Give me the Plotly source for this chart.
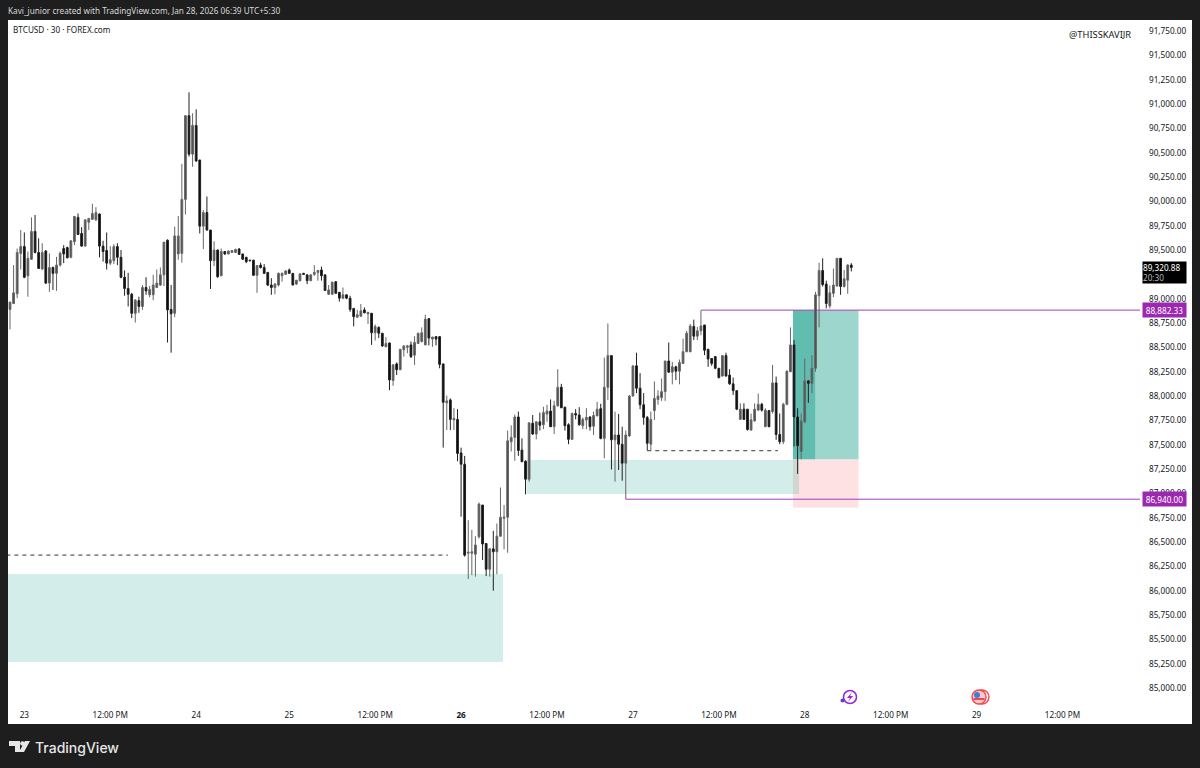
import plotly.graph_objects as go

##### BTCUSD 30m candles #####
opens = [88890,88950,89050,89465,89535,89235,89405,89690,89475,89305,
    89490,89160,89320,89260,89345,89515,89525,89425,89585,89835,
    89670,89540,89785,89815,89810,89870,89540,89495,89365,89390,
    89535,89425,89220,89105,89045,88850,88980,88920,89115,89040,
    89040,89115,89140,89245,89600,88890,88850,89460,89465,90020,
    90880,90485,90780,90425,89745,89885,89705,89390,89500,89235,
    89485,89460,89475,89475,89510,89460,89425,89395,89395,89240,
    89345,89320,89270,89140,89115,89140,89235,89250,89295,89260,
    89150,89185,89260,89245,89185,89250,89270,89295,89245,89045,
    89045,89175,89065,89005,89040,89005,88900,88810,88820,88885,
    88845,88850,88650,88705,88645,88505,88545,88160,88330,88270,
    88475,88500,88525,88420,88540,88560,88525,88795,88585,88610,
    88610,88330,87930,87960,87755,87760,87415,87300,86385,86385,
    86375,86555,86880,86485,86220,86430,86400,86560,86745,86755,
    87530,87575,87785,87445,87330,87145,87720,87610,87735,87705,
    87815,87845,87685,87900,88090,87885,87705,87555,87820,87805,
    87695,87755,87785,87690,87795,87870,87565,88090,88415,87550,
    87600,87505,87310,87590,88000,88310,88080,87910,87780,87505,
    87850,87965,87985,88045,88360,88245,88300,88255,88335,88455,
    88455,88715,88615,88670,88730,88480,88385,88405,88285,88205,
    88415,88215,88125,88055,87760,87865,87865,87650,87745,87855,
    87915,87685,87850,87840,88135,87605,87530,87915,88250,88525,
    87785,87430,87735,88155,88130,88285,89030,89290,89150,88925,
    89055,89130,89415,89125,89190,89345]
highs = [88965,89345,89515,89705,89680,89485,89835,89860,89620,89570,
    89500,89465,89330,89430,89485,89550,89535,89595,89845,89875,
    89735,89815,89825,89975,89940,89875,89595,89680,89540,89560,
    89570,89500,89290,89265,89060,88995,89020,89140,89220,89130,
    89245,89300,89320,89585,89610,89140,89740,89850,90385,90885,
    91120,90905,90945,90425,89910,90050,89705,89590,89505,89515,
    89490,89495,89500,89515,89520,89460,89430,89400,89400,89345,
    89370,89355,89270,89210,89160,89270,89270,89295,89310,89260,
    89190,89260,89265,89245,89245,89345,89295,89330,89245,89140,
    89175,89175,89065,89115,89040,89030,88900,88885,88945,88910,
    88860,88850,88735,88715,88645,88605,88550,88325,88345,88480,
    88520,88525,88560,88615,88650,88705,88835,88800,88610,88615,
    88615,88330,88005,87975,87875,87865,87470,87385,86725,86625,
    86560,86905,86880,86485,86435,86615,86690,87060,86880,87645,
    87700,87810,87840,87565,87340,87725,87805,87735,87830,87890,
    87910,87965,87950,88275,88125,87890,87720,87830,87865,87885,
    87780,87875,87790,87840,87940,87920,88395,88745,88415,87840,
    87815,87685,87645,88010,88310,88445,88235,88030,87795,87840,
    88150,88060,88180,88360,88550,88350,88310,88375,88590,88670,
    88740,88785,88710,88880,88730,88485,88385,88410,88285,88420,
    88445,88275,88190,88055,87925,87925,87865,87820,87925,88025,
    87930,87875,87855,88320,88200,87820,87930,88265,88705,88575,
    87875,87820,88385,88165,88420,89070,89370,89415,89185,89135,
    89310,89415,89415,89295,89355,89365]
lows = [88685,88945,89005,89300,89210,89020,89400,89465,89305,89295,
    89150,89070,89090,89080,89330,89365,89415,89415,89550,89655,
    89535,89535,89705,89810,89800,89425,89380,89300,89345,89355,
    89345,89210,89030,88920,88800,88755,88855,88885,89040,89015,
    88985,89115,89130,89130,88550,88445,88810,89400,89370,89865,
    90460,90355,90405,89670,89510,89700,89100,89335,89215,89235,
    89450,89455,89470,89470,89455,89400,89365,89385,89235,89060,
    89310,89255,89130,89040,89045,89125,89175,89245,89255,89140,
    89140,89175,89245,89150,89180,89235,89185,89185,89080,89040,
    89040,89055,88970,88995,88995,88865,88715,88810,88815,88850,
    88740,88525,88570,88595,88505,88505,88060,88105,88215,88265,
    88405,88440,88390,88320,88535,88550,88525,88520,88505,88520,
    88285,87470,87650,87650,87650,87330,86760,86350,86120,86160,
    86145,86535,86315,86150,86145,86000,86170,86555,86425,86390,
    87430,87335,87385,87325,86990,87120,87600,87555,87645,87660,
    87735,87680,87610,87890,87875,87645,87505,87550,87760,87695,
    87660,87660,87645,87600,87795,87555,87360,87960,87245,87120,
    87240,87130,86940,87580,87995,88030,87865,87705,87440,87440,
    87755,87910,87950,87950,88240,88120,88165,88120,88330,88450,
    88450,88575,88575,88625,88420,88300,88310,88275,88180,88200,
    88200,88115,88010,87855,87755,87755,87645,87645,87735,87850,
    87840,87680,87680,87820,87550,87505,87505,87905,88245,87480,
    87200,87350,87720,87930,88030,88250,88705,89125,88900,88900,
    89015,89125,89040,89115,89050,89280]
closes = [88965,89060,89475,89535,89220,89415,89690,89475,89310,89475,
    89160,89320,89260,89345,89465,89460,89420,89595,89845,89660,
    89540,89810,89825,89875,89885,89540,89485,89365,89400,89535,
    89425,89220,89105,89045,88850,88985,88920,89115,89080,89095,
    89140,89160,89245,89580,88885,88845,89645,89645,90020,90880,
    90485,90780,90415,89745,89885,89705,89390,89500,89225,89485,
    89460,89490,89495,89505,89455,89405,89380,89390,89240,89340,
    89320,89260,89140,89115,89150,89260,89260,89285,89260,89140,
    89190,89255,89250,89185,89245,89270,89290,89235,89085,89090,
    89170,89055,89005,89040,89005,88890,88815,88835,88875,88855,
    88860,88650,88715,88645,88515,88540,88165,88320,88270,88480,
    88515,88515,88405,88550,88645,88650,88790,88595,88605,88585,
    88325,87935,87950,87760,87770,87410,87300,86365,86395,86400,
    86470,86890,86480,86220,86430,86400,86560,86755,86755,87540,
    87575,87785,87440,87325,87145,87725,87610,87735,87700,87830,
    87845,87685,87900,88090,87880,87695,87555,87820,87805,87705,
    87760,87780,87685,87800,87865,87565,88090,88415,87550,87600,
    87505,87310,87600,88000,88310,88080,87910,87780,87515,87760,
    87975,88000,88045,88360,88245,88300,88255,88345,88455,88645,
    88720,88615,88670,88720,88470,88380,88335,88285,88190,88415,
    88205,88125,88055,87865,87865,87760,87655,87755,87865,87915,
    87855,87855,87685,88135,87605,87530,87915,88255,88525,87785,
    87490,87745,88155,88130,88285,89040,89290,89145,88950,89060,
    89140,89415,89125,89205,89345,89320.88]
candle_index = list(range(len(closes)))

# time axis labels sit on bar numbers because the axis is ordinal like TradingView
tick_bars = [4, 28, 52, 78, 102, 126, 150, 174, 198, 222, 246, 270, 294]
tick_labels = ["23", "12:00 PM", "24", "25", "12:00 PM", "<b>26</b>", "12:00 PM", "27",
               "12:00 PM", "28", "12:00 PM", "29", "12:00 PM"]

# price scale, 89,250 is hidden behind the last price box
price_ticks = [p for p in range(85000, 91751, 250) if p != 89250]

# drawings on the chart (bar numbers and prices)
demand_zones = [(-1, 137.7, 85267, 86171), (144.3, 220.4, 86993, 87342)]
dashed_levels = [(-1, 122.3, 86366), (178, 214.5, 87438)]
upper_level = 88882.33
lower_level = 86940.00
upper_start_bar = 193
lower_start_bar = 172
position_bars = (218.7, 237, 224.9)
position_entry = 87350
position_stop = 86852
last_price = 89320.88

W, H = 1200, 768
L, R, T, B = 8, 60, 20, 64  # plot margins
DARK = "#1e1e1e"
TEXT = "#131722"
PURPLE = "#9c27b0"
FONT = "Noto Sans"

def px(x):
    return (x - L) / (W - L - R)

def py(y):
    return 1 - (y - T) / (H - T - B)

def paper_rect(x0, x1, y0, y1, fill, line=None, layer="below"):
    return dict(type="rect", xref="paper", yref="paper", x0=px(x0), x1=px(x1), y0=py(y0), y1=py(y1),
                fillcolor=fill, line=dict(width=0) if line is None else line, layer=layer)

def paper_circle(x, y, r, fill, line_color, width):
    return dict(type="circle", xref="paper", yref="paper", x0=px(x - r), x1=px(x + r), y0=py(y - r), y1=py(y + r),
                fillcolor=fill, line=dict(color=line_color, width=width), layer="above")

def paper_path(points, fill):
    d = "M " + " L ".join(f"{px(a)},{py(b)}" for a, b in points) + " Z"
    return dict(type="path", xref="paper", yref="paper", path=d, fillcolor=fill, line=dict(width=0), layer="above")

shapes = [paper_rect(8, 1192, 20, 724, "white")]

##### zones #####
for x0, x1, low, high in demand_zones:
    shapes.append(dict(type="rect", xref="x", yref="y", x0=x0, x1=x1, y0=low, y1=high,
                       fillcolor="rgba(34,171,148,0.2)", line=dict(width=0), layer="below"))

# long position tool
p0, p1, p_mid = position_bars
shapes.append(dict(type="rect", xref="x", yref="y", x0=p0, x1=p1, y0=position_entry, y1=upper_level,
                   fillcolor="rgba(8,153,129,0.4)", line=dict(width=0), layer="below"))
shapes.append(dict(type="rect", xref="x", yref="y", x0=p0, x1=p_mid, y0=position_entry, y1=upper_level,
                   fillcolor="rgba(8,153,129,0.4)", line=dict(width=0), layer="below"))
shapes.insert(1, dict(type="rect", xref="x", yref="y", x0=p0, x1=p1, y0=position_stop, y1=position_entry,
                      fillcolor="rgba(242,54,69,0.15)", line=dict(width=0), layer="below"))

for x0, x1, level in dashed_levels:
    shapes.append(dict(type="line", xref="x", yref="y", x0=x0, x1=x1, y0=level, y1=level,
                       line=dict(color="#333333", width=1, dash="4px,4px"), layer="below"))
for start, level in [(upper_start_bar, upper_level), (lower_start_bar, lower_level)]:
    shapes.append(dict(type="line", xref="x", yref="y", x0=start, x1=330, y0=level, y1=level,
                       line=dict(color="#a63cba", width=1), layer="below"))

##### TradingView logo and the calendar event icons #####
shapes += [
    paper_path([(9, 741), (20, 741), (20, 752), (15, 752), (15, 746), (9, 746)], "#e6e6e6"),
    paper_circle(22.5, 743.5, 2.3, "#e6e6e6", "#e6e6e6", 0),
    paper_path([(25, 741), (30, 741), (24, 752), (19, 752)], "#e6e6e6"),
    paper_circle(850, 697, 6.5, "white", "#9c27d0", 1.6),
    paper_path([(852, 692), (847, 698), (850, 698), (848, 702), (853, 696), (850, 696)], "#9c27d0"),
    paper_circle(842.5, 700.5, 2, "#5a3fd0", "#5a3fd0", 0),
    paper_circle(982, 697, 7, "white", "#f0484f", 1.4),
    paper_circle(979, 697, 7, "#f7c9cc", "#f0484f", 1.4),
    paper_rect(973.5, 984.5, 698, 700, "#f0484f", layer="above"),
    paper_circle(977, 695, 3, "#3d7fd9", "#3d7fd9", 0),
]

fig = go.Figure()
fig.add_trace(go.Candlestick(
    x=candle_index, open=opens, high=highs, low=lows, close=closes,
    increasing=dict(line=dict(color="#666666", width=1), fillcolor="#4c4c4c"),
    decreasing=dict(line=dict(color="#202020", width=1), fillcolor="#0a0a0a"),
    whiskerwidth=0, showlegend=False, hoverinfo="skip",
))

def text_note(x, y, text, color=TEXT, size=9, anchor="left", **kw):
    return dict(xref="paper", yref="paper", x=px(x), y=py(y), text=text, showarrow=False, xanchor=anchor,
                yanchor="middle", align="left", font=dict(family=FONT, size=size, color=color), **kw)

annotations = [
    text_note(5.5, 10, "Kavi_junior created with TradingView.com, Jan 28, 2026 06:39 UTC+5:30", color="#d8d8d8", size=8.2),
    text_note(10.5, 30, "BTCUSD · 30 · FOREX.com", size=8.2),
    text_note(1067, 34, "@THISSKAVIJR", size=9.3),
    dict(xref="paper", yref="paper", x=px(33), y=py(747), text="TradingView", showarrow=False, xanchor="left",
         yanchor="middle", font=dict(family="Inter", size=14, color="#e6e6e6", weight=500)),
]
for level in [upper_level, lower_level]:
    annotations.append(dict(xref="paper", yref="y", x=px(1142), y=level, text=f"{level:,.2f}", showarrow=False,
                            xanchor="left", yanchor="middle", bgcolor=PURPLE, borderpad=1.5, width=40,
                            font=dict(family=FONT, size=8.2, color="white")))
annotations.append(dict(xref="paper", yref="y", x=px(1142), y=last_price, yshift=-5,
                        text=f"{last_price:,.2f}<br><span style='color:#b8b8b8'>20:30</span>",
                        showarrow=False, xanchor="left", yanchor="middle", bgcolor="#000000", borderpad=0,
                        width=43, height=21, align="left", font=dict(family=FONT, size=8.2, color="white")))

fig.update_layout(
    width=W, height=H,
    margin=dict(l=L, r=R, t=T, b=B, pad=0),
    paper_bgcolor=DARK, plot_bgcolor="white",
    shapes=shapes, annotations=annotations,
    font=dict(family=FONT, size=8.2, color=TEXT),
    boxgap=0.3,
    xaxis=dict(range=[-0.56, 315.64], tickmode="array", tickvals=tick_bars, ticktext=tick_labels, tickangle=0,
               showgrid=False, zeroline=False, showline=False, ticks="", rangeslider=dict(visible=False),
               ticklabelstandoff=5, tickfont=dict(family=FONT, size=8.2, color=TEXT)),
    yaxis=dict(range=[84836, 91863], side="right", tickmode="array", tickvals=price_ticks,
               ticktext=[f"{p:,.2f}" for p in price_ticks],
               showgrid=False, zeroline=False, showline=False, ticks="", ticklabelstandoff=8,
               tickfont=dict(family=FONT, size=8.2, color=TEXT)),
)

fig.write_html("out.html", config=dict(displayModeBar=False), post_script="document.body.style.margin='0';")
